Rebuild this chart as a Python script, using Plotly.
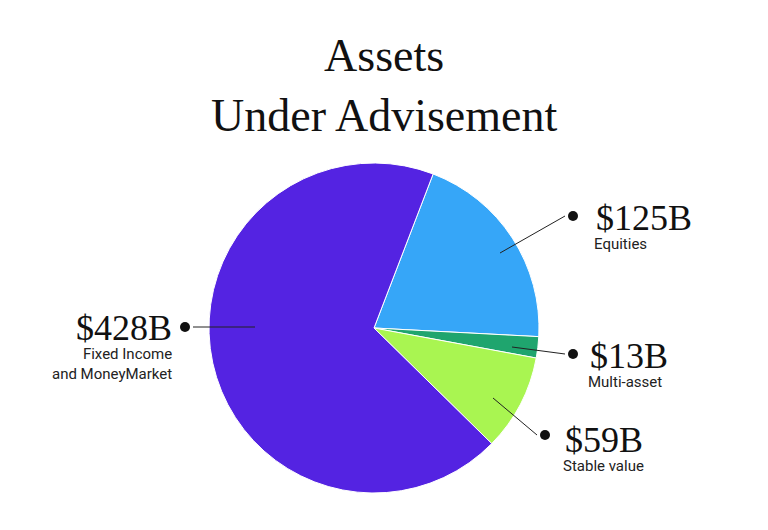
import plotly.graph_objects as go

W, H = 768, 530
OFF = 8  # page body margin

labels = ["Equities", "Multi-asset", "Stable value", "Fixed Income and MoneyMarket"]
values = [125, 13, 59, 428]
amounts = ["$125B", "$13B", "$59B", "$428B"]
colors = ["#36A6F8", "#1FA56E", "#A9F551", "#5423E2"]


def fx(x):
    return (x - OFF) / W


def fy(y):
    return 1 - (y - OFF) / H


fig = go.Figure(go.Pie(
    labels=labels, values=values,
    sort=False, direction="clockwise", rotation=21,
    marker=dict(colors=colors, line=dict(color="white", width=1)),
    textinfo="none", hoverinfo="label+value", showlegend=False,
    domain=dict(x=[fx(209), fx(539)], y=[fy(493), fy(163)]),
))

serif = "Liberation Serif"
sans = "Roboto"

callouts = [
    (594, 218, "left", "Equities", 573, 216, 500, 253),
    (588, 356, "left", "Multi-asset", 573, 354, 512, 347),
    (563, 440, "left", "Stable value", 545, 435, 493, 398),
    (174, 328, "right", "Fixed Income<br>and MoneyMarket", 185, 327, 255, 327),
]

ann = [dict(text="Assets<br>Under Advisement", x=fx(384), y=fy(28), xref="paper", yref="paper",
            xanchor="center", yanchor="top", showarrow=False,
            font=dict(family=serif, size=46, color="#111"))]
shapes = []
for (x, y, al, desc, dx, dy, lx, ly), amt in zip(callouts, amounts):
    ann.append(dict(text=amt, x=fx(x), y=fy(y), xref="paper", yref="paper",
                    xanchor=al, yanchor="middle", showarrow=False,
                    font=dict(family=serif, size=36, color="#111")))
    ann.append(dict(text=desc, x=fx(x - 2 if al == "left" else x), y=fy(y + 15),
                    xref="paper", yref="paper", align=al,
                    xanchor=al, yanchor="top", showarrow=False,
                    font=dict(family=sans, size=15, color="#222")))
    shapes.append(dict(type="circle", xref="paper", yref="paper",
                       x0=fx(dx - 5), x1=fx(dx + 5), y0=fy(dy + 5), y1=fy(dy - 5),
                       fillcolor="#111", line=dict(width=0)))
    sx = dx - 8 if lx < dx else dx + 8
    shapes.append(dict(type="line", xref="paper", yref="paper",
                       x0=fx(sx), y0=fy(dy), x1=fx(lx), y1=fy(ly),
                       line=dict(color="#222", width=1)))

fig.update_layout(width=W, height=H, margin=dict(l=0, r=0, t=0, b=0),
                  paper_bgcolor="white", plot_bgcolor="white",
                  annotations=ann, shapes=shapes)
fig.write_html("out.html")
